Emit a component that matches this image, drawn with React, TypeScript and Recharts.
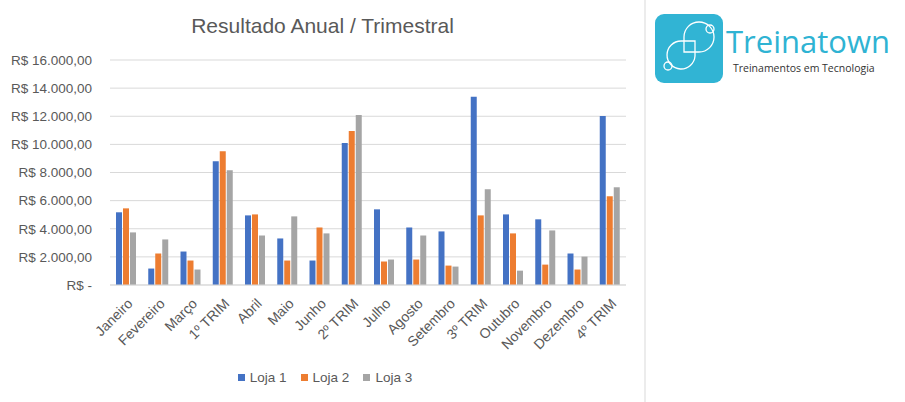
import React from 'react';
import { BarChart, Bar, XAxis, YAxis, CartesianGrid } from 'recharts';

const categories = [
  'Janeiro', 'Fevereiro', 'Março', '1º TRIM',
  'Abril', 'Maio', 'Junho', '2º TRIM',
  'Julho', 'Agosto', 'Setembro', '3º TRIM',
  'Outubro', 'Novembro', 'Dezembro', '4º TRIM',
];
const loja1 = [5170, 1170, 2380, 8800, 4950, 3310, 1740, 10090, 5380, 4090, 3810, 13380, 5020, 4670, 2240, 12020];
const loja2 = [5450, 2240, 1740, 9520, 5020, 1740, 4090, 10950, 1670, 1810, 1380, 4950, 3670, 1450, 1100, 6310];
const loja3 = [3740, 3240, 1100, 8160, 3520, 4880, 3670, 12090, 1810, 3520, 1310, 6810, 1020, 3880, 2020, 6950];
const yTicks = [0, 2000, 4000, 6000, 8000, 10000, 12000, 14000, 16000];
const seriesNames = ['Loja 1', 'Loja 2', 'Loja 3'];
const seriesColors = ['#4472C4', '#ED7D31', '#A5A5A5'];

const data = categories.map((name, i) => ({
  name,
  loja1: loja1[i],
  loja2: loja2[i],
  loja3: loja3[i],
}));

const FONT = '"Liberation Sans", Arial, sans-serif';
const TEXT = '#595959';

const formatBRL = (v: number) => {
  if (v === 0) return 'R$ -';
  const int = Math.floor(v).toString().replace(/\B(?=(\d{3})+(?!\d))/g, '.');
  return `R$ ${int},00`;
};

const XTick = (props: any) => {
  const { x, y, payload } = props;
  return (
    <g transform={`translate(${x + 4},${y + 8})`}>
      <text
        transform="rotate(-45)"
        textAnchor="end"
        dy="0.35em"
        fontSize={14}
        fontFamily={FONT}
        fill={TEXT}
      >
        {payload.value}
      </text>
    </g>
  );
};

function Logo() {
  return (
    <svg width={905} height={402} style={{ position: 'absolute', left: 0, top: 0, pointerEvents: 'none' }}>
      <line x1={645} y1={0} x2={645} y2={402} stroke="#d9d9d9" strokeWidth={1} />
      <rect x={655} y={14} width={68} height={69} rx={9} fill="#31B4D4" />
      <g fill="none" stroke="#ffffff" strokeWidth={1.3}>
        <path d="M684 52 L684 37 A15 15 0 1 1 699 52 Z" />
        <path d="M695 41 L695 56 A14 14 0 1 1 681 41 Z" />
        <circle cx={710} cy={29} r={4} />
        <circle cx={668} cy={66} r={4} />
      </g>
      <text x={726} y={53} fontSize={31} fontFamily='"Open Sans", sans-serif' fill="#2FB3D3">
        Treinatown
      </text>
      <text x={733} y={72} fontSize={10.5} fontFamily='"Open Sans", sans-serif' fill="#333333">
        Treinamentos em Tecnologia
      </text>
    </svg>
  );
}

export default function App() {
  return (
    <div style={{ position: 'absolute', left: 0, top: 0, width: 905, height: 402, background: '#fff', overflow: 'hidden' }}>
      <div
        style={{
          position: 'absolute',
          left: 0,
          width: 645,
          top: 14,
          textAlign: 'center',
          fontFamily: FONT,
          fontSize: 21,
          color: TEXT,
        }}
      >
        Resultado Anual / Trimestral
      </div>
      <div style={{ position: 'absolute', left: 0, top: 0 }}>
        <BarChart
          width={640}
          height={402}
          data={data}
          margin={{ top: 60, right: 14, bottom: 0, left: 0 }}
          barCategoryGap={6}
          barGap={1}
        >
          <CartesianGrid vertical={false} stroke="#d9d9d9" />
          <XAxis
            dataKey="name"
            interval={0}
            height={117}
            tick={<XTick />}
            tickLine={false}
            axisLine={{ stroke: '#d9d9d9' }}
          />
          <YAxis
            width={110}
            domain={[0, 16000]}
            ticks={yTicks}
            tickFormatter={formatBRL}
            axisLine={false}
            tickLine={false}
            tickMargin={12}
            tick={{ fontSize: 13.5, fontFamily: FONT, fill: TEXT }}
          />
          <Bar dataKey="loja1" name={seriesNames[0]} fill={seriesColors[0]} barSize={6} isAnimationActive={false} />
          <Bar dataKey="loja2" name={seriesNames[1]} fill={seriesColors[1]} barSize={6} isAnimationActive={false} />
          <Bar dataKey="loja3" name={seriesNames[2]} fill={seriesColors[2]} barSize={6} isAnimationActive={false} />
        </BarChart>
      </div>
      <div
        style={{
          position: 'absolute',
          left: 0,
          width: 650,
          top: 370,
          display: 'flex',
          justifyContent: 'center',
          gap: 14,
          fontFamily: FONT,
          fontSize: 13.5,
          color: TEXT,
        }}
      >
        {seriesNames.map((n, i) => (
          <div key={n} style={{ display: 'flex', alignItems: 'center', gap: 5 }}>
            <span style={{ display: 'inline-block', width: 7, height: 7, background: seriesColors[i] }} />
            <span>{n}</span>
          </div>
        ))}
      </div>
      <Logo />
    </div>
  );
}
